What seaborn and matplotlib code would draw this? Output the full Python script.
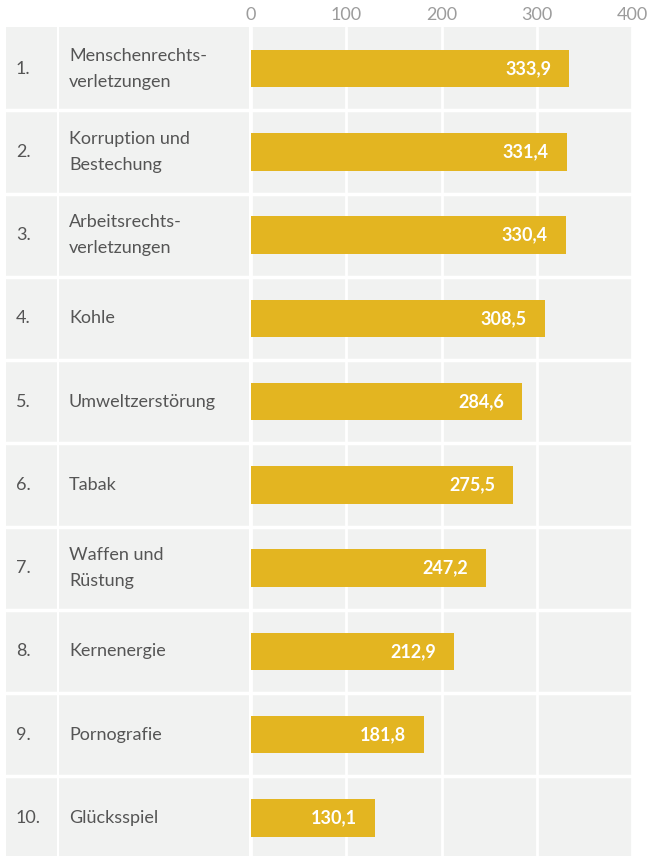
import matplotlib
matplotlib.use('Agg')
import matplotlib.pyplot as plt
import seaborn as sns
import pandas as pd

# Daten
ranks = ['1.', '2.', '3.', '4.', '5.', '6.', '7.', '8.', '9.', '10.']
labels = ['Menschenrechts-\nverletzungen', 'Korruption und\nBestechung',
          'Arbeitsrechts-\nverletzungen', 'Kohle', 'Umweltzerstörung', 'Tabak',
          'Waffen und\nRüstung', 'Kernenergie', 'Pornografie', 'Glücksspiel']
values = [333.9, 331.4, 330.4, 308.5, 284.6, 275.5, 247.2, 212.9, 181.8, 130.1]
ticks = [0, 100, 200, 300, 400]

df = pd.DataFrame({'label': labels, 'value': values})

sns.set_style('white')
plt.rcParams['font.family'] = ['Lato', 'DejaVu Sans']

bg = '#f1f2f1'
bar_color = '#e3b521'
text_color = '#555555'
n = len(values)

fig = plt.figure(figsize=(6.47, 8.56), dpi=100)
W, H = 647, 856
top_px, bottom_px = 27, 859.5


def add_axes(x0, x1):
    return fig.add_axes([x0 / W, (H - bottom_px) / H, (x1 - x0) / W, (bottom_px - top_px) / H])


ax_rank = add_axes(6, 57)
ax_lab = add_axes(59, 249)
ax = add_axes(251, 632)

for a in (ax_rank, ax_lab, ax):
    a.set_facecolor(bg)
    a.set_ylim(n - 0.5, -0.5)
    for s in a.spines.values():
        s.set_visible(False)
    for i in range(1, n):
        a.axhline(i - 0.5, color='white', lw=2.5, zorder=1)

for a in (ax_rank, ax_lab):
    a.set_xlim(0, 1)
    a.set_xticks([])
    a.set_yticks([])

for i, r in enumerate(ranks):
    ax_rank.text(10 / 51, i, r, ha='left', va='center', fontsize=13, color=text_color)
for i, l in enumerate(labels):
    ax_lab.text(10 / 190, i, l, ha='left', va='center', fontsize=13,
                color=text_color, linespacing=1.75)

# Balken
sns.barplot(data=df, x='value', y='label', orient='h', color=bar_color,
            width=0.45, ax=ax, zorder=3, saturation=1, linewidth=0)
ax.set_ylim(n - 0.5, -0.5)
ax.set_xlim(0, 400)
ax.set_xticks(ticks)
ax.set_xticklabels([str(t) for t in ticks])
for t in ticks:
    ax.axvline(t, color='white', lw=2, zorder=2)
ax.xaxis.tick_top()
ax.tick_params(axis='x', length=0, pad=3, labelsize=13, labelcolor='#9c9c9c')
ax.set_yticks([])
ax.set_xlabel('')
ax.set_ylabel('')

texts = ax.bar_label(ax.containers[0], labels=[f'{v:.1f}'.replace('.', ',') for v in values],
                     padding=-13, color='white', fontsize=13, fontweight='bold')
for t in texts:
    t.set_ha('right')
    t.set_zorder(4)

fig.savefig('out.png', dpi=100)
